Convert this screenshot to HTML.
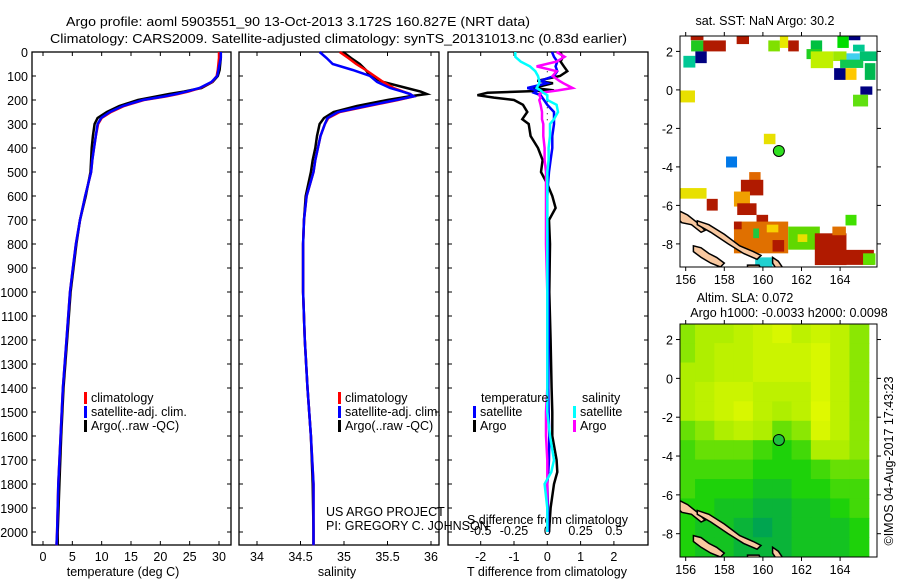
<!DOCTYPE html>
<html><head><meta charset="utf-8"><style>
html,body{margin:0;padding:0;background:#fff;}
svg{display:block;font-family:"Liberation Sans",sans-serif;}
text{font-size:12.5px;fill:#000;}
</style></head><body>
<svg id="c" width="900" height="580" viewBox="0 0 900 580" xmlns="http://www.w3.org/2000/svg">
<text x="66" y="26" textLength="464" lengthAdjust="spacingAndGlyphs">Argo profile: aoml 5903551_90 13-Oct-2013 3.172S 160.827E (NRT data)</text>
<text x="50" y="43" textLength="577" lengthAdjust="spacingAndGlyphs">Climatology: CARS2009. Satellite-adjusted climatology: synTS_20131013.nc (0.83d earlier)</text>
<text x="765" y="25" text-anchor="middle">sat. SST: NaN Argo: 30.2</text>
<text x="745" y="302" text-anchor="middle">Altim. SLA: 0.072</text>
<text x="789" y="317" text-anchor="middle">Argo h1000: -0.0033 h2000: 0.0098</text>
<text transform="translate(893,461) rotate(-90)" text-anchor="middle">©IMOS 04-Aug-2017 17:43:23</text>
<g id="g"></g>
</svg>
<script>
const depth=[0,25,50,75,100,125,150,165,175,185,200,225,250,275,300,350,400,450,500,600,700,800,900,1000,1200,1400,1600,1800,2000,2055];
const tempClim=[30.0,30.0,29.9,29.8,29.6,28.8,26.8,24.8,23,21,17.2,13.8,11.6,10,9.4,9.0,8.7,8.4,8.2,7.2,6.3,5.6,5.1,4.6,4.0,3.4,3.0,2.6,2.4,2.3];
const tempSat=[30.3,30.3,30.1,29.9,29.7,28.7,26.7,24.5,22.7,20.7,17.0,13.6,11.4,9.9,9.3,9.0,8.7,8.4,8.2,7.2,6.3,5.6,5.1,4.6,4.0,3.4,3.0,2.6,2.4,2.3];
const tempArgo=[30.3,30.3,30.2,30.1,29.8,28.9,27.0,24.0,21.5,19.4,16.2,13.0,10.9,9.3,8.8,8.5,8.3,8.2,8.1,7.3,6.3,5.7,5.2,4.7,4.1,3.5,3.1,2.8,2.5,2.5];
const salClim=[34.95,35.05,35.14,35.25,35.35,35.45,35.57,35.68,35.76,35.8,35.62,35.28,34.95,34.82,34.78,34.73,34.70,34.67,34.65,34.57,34.54,34.53,34.53,34.53,34.55,34.58,34.62,34.65,34.65,34.65];
const salSat=[34.72,34.8,34.87,35.1,35.3,35.38,35.53,35.67,35.76,35.8,35.6,35.26,34.93,34.81,34.78,34.73,34.70,34.67,34.65,34.57,34.54,34.53,34.53,34.53,34.55,34.58,34.62,34.65,34.65,34.65];
const salArgo=[34.99,35.08,35.18,35.25,35.3,35.45,35.72,35.88,35.95,35.75,35.5,35.15,34.88,34.77,34.72,34.69,34.67,34.64,34.62,34.56,34.54,34.53,34.53,34.53,34.55,34.58,34.62,34.64,34.65,34.65];
const diffDepth=[0,20,40,60,80,100,120,130,150,160,170,180,190,200,220,250,280,300,350,400,450,500,550,600,650,700,800,1000,1200,1400,1500,1600,1700,1750,1800,1900,2000];
const tDiffArgo=[0.38,0.47,0.4,0.5,0.6,0.38,-0.3,0.17,-0.43,0.2,-1.8,-2.1,-1.6,-1.0,-0.73,-0.6,-0.75,-0.56,-0.5,-0.28,-0.14,-0.19,0.0,0.15,0.25,0.05,0.08,0.06,0.1,0.13,0.15,0.15,0.28,0.3,0.2,0.1,0.05];
const tDiffSat=[0.14,0.2,0.3,0.25,0.3,0.2,-0.2,0.0,-0.6,-0.3,-0.4,-0.2,-0.15,-0.1,0.0,0.2,0.2,0.2,0.15,0.15,0.1,0.05,0.02,0.0,0.0,0.0,0.02,0.03,0.04,0.03,0.04,0.06,0.05,0.03,0.0,0.02,0.02];
const sDiffArgo=[0.07,0.13,0.07,-0.08,0.07,0.04,0.09,0.12,0.19,0.08,-0.05,-0.06,-0.05,-0.06,-0.05,-0.04,-0.04,-0.03,-0.03,-0.02,-0.02,-0.01,-0.01,-0.01,-0.01,-0.01,-0.01,0,0,0,-0.01,-0.01,0,0,0,0,0];
const sDiffSat=[-0.24,-0.24,-0.2,-0.13,-0.09,-0.07,-0.06,-0.06,-0.08,-0.05,-0.03,0,0,0,0.07,0.08,0.05,0.02,0.02,0.01,0.01,0,0,0,0,0,0,0,0,0,0,0.02,0.05,0.03,-0.02,0,0];
const depthTicks=[0,100,200,300,400,500,600,700,800,900,1000,1100,1200,1300,1400,1500,1600,1700,1800,1900,2000];
const tempTicks=[0,5,10,15,20,25,30];
const salTicks=[34,34.5,35,35.5,36];
const tDiffTicks=[-2,-1,0,1,2];
const sDiffTicks=[-0.5,-0.25,0,0.25,0.5];
const lonTicks=[156,158,160,162,164];
const latTicks=[2,0,-2,-4,-6,-8];
const floatLon=160.827, floatLat=-3.172;
const sstLon=[156.26,156.28,156.91,158.64,160.28,160.88,161.31,155.88,156.5,162.48,162.26,163.86,164.45,164.67,162.48,163.64,164.33,165.02,164.0,163.69,164.28,165.28,165.05,164.67,155.67,160.05,158.09,159.29,158.86,158.5,155.67,157.09,158.67,159.67,164.28,158.5,158.5,160.2,159.5,160.5,161.31,161.8,162.69,163.47,165.19,163.6,159.6];
const sstLat=[2.87,2.57,2.57,2.87,2.57,2.78,2.57,1.77,2.0,2.57,2.12,2.78,2.87,2.35,2.0,2.0,1.9,2.0,1.57,1.13,1.13,1.39,0.18,-0.25,-0.03,-2.28,-3.46,-4.27,-4.67,-5.28,-5.1,-5.66,-5.89,-6.49,-6.49,-6.84,-6.84,-7.0,-7.2,-7.8,-7.1,-7.5,-7.45,-8.31,-8.49,-7.1,-8.7];
const sstW=[0.66,0.64,1.17,0.64,0.6,0.43,0.55,0.62,0.59,0.59,0.78,0.59,0.6,0.6,1.16,0.69,0.69,0.86,1.2,0.59,0.57,0.55,0.62,0.78,0.81,0.6,0.57,0.59,1.16,0.83,1.41,0.57,1.0,0.6,0.57,2.81,0.4,0.6,0.3,0.6,1.64,0.5,1.64,2.28,0.64,0.7,0.9];
const sstH=[0.29,0.57,0.57,0.49,0.57,0.6,0.57,0.61,0.61,0.57,0.52,0.6,0.29,0.35,0.87,0.5,0.5,0.5,0.43,0.61,0.61,0.87,0.43,0.61,0.62,0.54,0.57,0.6,0.81,0.78,0.55,0.61,0.61,0.52,0.55,1.65,0.4,0.4,0.5,0.6,1.2,0.4,1.65,0.78,0.6,0.45,0.5];
const sstCol=["#b01a00","#20c820","#b01a00","#b01a00","#80e000","#e8e800","#b01a00","#00c896","#000080","#00c040","#20d020","#00dd00","#000080","#00c890","#c0f000","#a0e800","#40d0f0","#00c070","#10c850","#000080","#ffc800","#00b850","#000080","#60e010","#e8e000","#e8e000","#0078e8","#e06800","#b01a00","#f0a000","#e8e000","#b01a00","#b01a00","#b01a00","#40e000","#e07000","#b01a00","#f8d000","#20c840","#b01a00","#60d800","#e8e000","#b01a00","#b01a00","#60e000","#e07000","#20d0d0"];
const slaLats=[2.3,1.3,0.3,-0.7,-1.7,-2.7,-3.7,-4.7,-5.7,-6.7,-7.7,-8.7];
const slaLons=[156,157,158,159,160,161,162,163,164,165];
const slaVals=[
[0.5,0.6,0.6,0.7,0.8,0.9,0.7,0.8,0.7,0.5],
[0.5,0.6,0.7,0.7,0.8,0.8,0.8,0.9,0.7,0.5],
[0.6,0.6,0.7,0.7,0.8,0.8,0.8,0.9,0.7,0.5],
[0.6,0.7,0.8,0.8,0.7,0.7,0.7,0.9,0.7,0.5],
[0.6,0.7,0.8,0.9,0.7,0.6,0.7,0.95,0.7,0.5],
[0.4,0.5,0.6,0.7,0.6,0.4,0.5,0.9,0.7,0.5],
[0.3,0.4,0.4,0.4,0.3,0.2,0.3,0.6,0.6,0.5],
[0.3,0.3,0.3,0.3,0.2,0.2,0.2,0.3,0.4,0.4],
[0.3,0.2,0.2,0.2,0.1,0.1,0.2,0.2,0.3,0.3],
[0.2,0.2,0.1,0.1,0,0,0.1,0.1,0.2,0.3],
[0.2,0.1,0.1,0,-0.1,0,0.1,0.1,0.1,0.2],
[0.2,0.1,0.1,0,0,0,0.1,0.1,0.1,0.2]];
const islands=[
[[155.7,-6.3],[156.1,-6.5],[156.6,-6.9],[157.0,-7.3],[156.8,-7.4],[156.3,-7.0],[155.8,-6.9],[155.7,-6.8]],
[[156.6,-6.8],[157.2,-7.0],[158.0,-7.5],[158.8,-8.1],[159.5,-8.4],[159.9,-8.6],[159.7,-8.8],[159.0,-8.5],[158.2,-8.0],[157.3,-7.4],[156.6,-7.0]],
[[156.4,-8.1],[156.8,-8.2],[157.2,-8.5],[157.6,-8.7],[158.0,-9.0],[157.8,-9.2],[157.3,-9.0],[156.8,-8.7],[156.4,-8.4]],
[[160.5,-8.7],[160.8,-8.9],[161.0,-9.2],[160.7,-9.3],[160.5,-9.0]],
[[159.2,-9.1],[159.8,-9.1],[159.9,-9.3],[159.2,-9.3]]];

const NS="http://www.w3.org/2000/svg";
const G=document.getElementById('g');
function mk(tag,attrs,parent){const e=document.createElementNS(NS,tag);for(const k in attrs)e.setAttribute(k,attrs[k]);(parent||G).appendChild(e);return e;}
function txt(x,y,s,anchor,parent){const t=mk('text',{x:x,y:y,'text-anchor':anchor||'start'},parent);t.textContent=s;return t;}

const Y0=52,YS=0.24,YB=545;
const yD=d=>Y0+d*YS;
const panels=[
 {x0:32,x1:231,vx:v=>43+v*(176/30),name:'temperature-panel'},
 {x0:239,x1:439,vx:v=>257+(v-34)*87,name:'salinity-panel'},
 {x0:448,x1:648,vx:v=>547.3+v*33.3,name:'difference-panel'}];
const sx=v=>547.3+v*133.2;

function line(xs,ds,fx,col,name,w){
  const p=mk('polyline',{points:xs.map((v,i)=>fx(v).toFixed(1)+','+yD(ds[i]).toFixed(1)).join(' '),fill:'none',stroke:col,'stroke-width':w||2.5});
  
  
}
panels.forEach((P,pi)=>{
  const fr=mk('rect',{x:P.x0,y:Y0,width:P.x1-P.x0,height:YB-Y0,fill:'#fff',stroke:'#000','stroke-width':1.3});
  
  
  depthTicks.forEach(d=>{
    mk('line',{x1:P.x0,x2:P.x0+4,y1:yD(d),y2:yD(d),stroke:'#000'});
    mk('line',{x1:P.x1-4,x2:P.x1,y1:yD(d),y2:yD(d),stroke:'#000'});
  });
});
depthTicks.forEach(d=>{const t=txt(28,yD(d)+5,String(d),'end');
  
  });
function xticks(P,ticks,fx,labY){
  ticks.forEach(v=>{const x=fx(v);
    mk('line',{x1:x,x2:x,y1:Y0,y2:Y0+4,stroke:'#000'});
    mk('line',{x1:x,x2:x,y1:YB-4,y2:YB,stroke:'#000'});
    const t=txt(x,labY,String(v),'middle');
    
    });
}
xticks(panels[0],tempTicks,panels[0].vx,561);
xticks(panels[1],salTicks,panels[1].vx,561);
xticks(panels[2],tDiffTicks,panels[2].vx,561);
sDiffTicks.forEach(v=>{const t=txt(sx(v),535,String(v),'middle');
  
  });
[['temperature (deg C)',123],['salinity',337],['T difference from climatology',547]].forEach(a=>{
  const t=txt(a[1],576,a[0],'middle');});
const sdt=txt(467,524,'S difference from climatology');



line(tempArgo,depth,panels[0].vx,'#000','temp-argo-line');
line(tempClim,depth,panels[0].vx,'#f00','temp-climatology-line');
line(tempSat,depth,panels[0].vx,'#00f','temp-satellite-line');
line(salArgo,depth,panels[1].vx,'#000','sal-argo-line');
line(salClim,depth,panels[1].vx,'#f00','sal-climatology-line');
line(salSat,depth,panels[1].vx,'#00f','sal-satellite-line');
mk('line',{x1:panels[2].vx(0),x2:panels[2].vx(0),y1:yD(80),y2:yD(300),stroke:'#000','stroke-dasharray':'1,5'});
line(tDiffArgo,diffDepth,panels[2].vx,'#000','tdiff-argo-line');
line(tDiffSat,diffDepth,panels[2].vx,'#00f','tdiff-satellite-line');
line(sDiffArgo,diffDepth,sx,'#f0f','sdiff-argo-line');
line(sDiffSat,diffDepth,sx,'#0ff','sdiff-satellite-line');

function legend(x,y,col,label){
  const r=mk('rect',{x:x,y:y-10,width:3,height:12,fill:col});
  
  
  const t=txt(x+7,y,label);
  
  
}
[[84,'#f00','climatology'],[84,'#00f','satellite-adj. clim.'],[84,'#000','Argo(..raw -QC)']].forEach((a,i)=>legend(a[0],402+i*14,a[1],a[2]));
[[338,'#f00','climatology'],[338,'#00f','satellite-adj. clim.'],[338,'#000','Argo(..raw -QC)']].forEach((a,i)=>legend(a[0],402+i*14,a[1],a[2]));
const lt=txt(481,402,'temperature');
const ls=txt(582,402,'salinity');
legend(473,416,'#00f','satellite');legend(473,430,'#000','Argo');
legend(573,416,'#0ff','satellite');legend(573,430,'#f0f','Argo');
const u1=txt(326,516,'US ARGO PROJECT');
const u2=txt(326,530,'PI: GREGORY C. JOHNSON');

function mapAxes(top,bot){
  const M={x0:680,x1:877,top:top,bot:bot};
  M.lx=l=>685.7+(l-156)*19.3;
  M.ly=a=>top+(2.8-a)*((bot-top)/12);
  return M;
}
const m1=mapAxes(36,267), m2=mapAxes(324,557);
function clipFor(M,id){const cp=mk('clipPath',{id:id});mk('rect',{x:M.x0,y:M.top,width:M.x1-M.x0,height:M.bot-M.top},cp);}
clipFor(m1,'c1');clipFor(m2,'c2');
const g1=mk('g',{'clip-path':'url(#c1)'});


const g2=mk('g',{'clip-path':'url(#c2)'});


mk('rect',{x:m1.x0,y:m1.top,width:m1.x1-m1.x0,height:m1.bot-m1.top,fill:'#fff'},g1);
sstLon.forEach((lo,i)=>{
  const x=m1.lx(lo),y=m1.ly(sstLat[i]);
  const r=mk('rect',{x:x,y:y,width:sstW[i]*19.3,height:sstH[i]*19.25,fill:sstCol[i]},g1);
  
  
});
function slaColor(v){
  const stops=[[-0.1,[0,165,80]],[0.2,[30,210,10]],[0.6,[175,238,0]],[1,[230,250,0]]];
  v=Math.max(-0.1,Math.min(1,v));
  for(let i=0;i<stops.length-1;i++){const a=stops[i],b=stops[i+1];
    if(v<=b[0]){const t=(v-a[0])/(b[0]-a[0]);return 'rgb('+a[1].map((c,k)=>Math.round(c+(b[1][k]-c)*t)).join(',')+')';}}
  return 'rgb(230,250,0)';
}
slaVals.forEach((row,ri)=>row.forEach((v,ci)=>{
  const x=m2.lx(slaLons[ci]-0.5),y=m2.ly(slaLats[ri]+0.5);
  const r=mk('rect',{x:x-0.3,y:y-0.3,width:19.9,height:20,fill:slaColor(v)},g2);
  
  
}));
[[m1,g1],[m2,g2]].forEach(([M,g])=>{
  islands.forEach(poly=>{
    const p=mk('polygon',{points:poly.map(q=>M.lx(q[0]).toFixed(1)+','+M.ly(q[1]).toFixed(1)).join(' '),fill:'#f8c8a0',stroke:'#000','stroke-width':1.5},g);
    
    
  });
  const c=mk('circle',{cx:M.lx(floatLon),cy:M.ly(floatLat),r:5.5,fill:g===g1?'#30e020':'#20c040',stroke:'#000','stroke-width':1});
  
  
  const fr=mk('rect',{x:M.x0,y:M.top,width:M.x1-M.x0,height:M.bot-M.top,fill:'none',stroke:'#000','stroke-width':1});
  
  
  lonTicks.forEach(l=>{const x=M.lx(l);
    mk('line',{x1:x,x2:x,y1:M.top-4,y2:M.top,stroke:'#000'});
    mk('line',{x1:x,x2:x,y1:M.bot,y2:M.bot+4,stroke:'#000'});
    const t=txt(x,M.bot+17,String(l),'middle');
    
    });
  latTicks.forEach(a=>{const y=M.ly(a);
    mk('line',{x1:M.x0-4,x2:M.x0,y1:y,y2:y,stroke:'#000'});
    mk('line',{x1:M.x1,x2:M.x1+4,y1:y,y2:y,stroke:'#000'});
    const t=txt(673,y+5,String(a),'end');
    
    });
});
</script>
</body></html>
